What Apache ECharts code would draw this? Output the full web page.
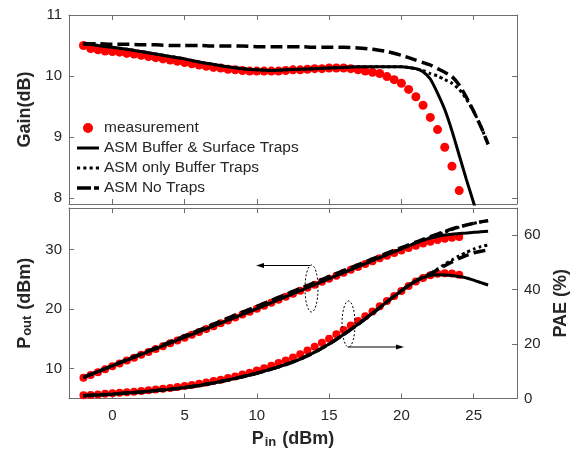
<!DOCTYPE html>
<html><head><meta charset="utf-8">
<script src="https://cdn.jsdelivr.net/npm/echarts@6/dist/echarts.min.js"></script>
<style>html,body{margin:0;padding:0;background:#fff}#c{width:579px;height:457px}</style>
</head><body><div id="c"></div>
<script>
// ---- data ----
const measPin = [-2,-1.5,-1,-0.5,0,0.5,1,1.5,2,2.5,3,3.5,4,4.5,5,5.5,6,6.5,7,7.5,8,8.5,9,9.5,10,10.5,11,11.5,12,12.5,13,13.5,14,14.5,15,15.5,16,16.5,17,17.5,18,18.5,19,19.5,20,20.5,21,21.5,22,22.5,23,23.5,24];
const gainMeas = [10.50,10.45,10.43,10.41,10.40,10.39,10.37,10.36,10.34,10.32,10.30,10.28,10.26,10.24,10.22,10.20,10.18,10.16,10.14,10.13,10.11,10.10,10.09,10.08,10.08,10.08,10.08,10.08,10.09,10.10,10.10,10.11,10.12,10.12,10.13,10.13,10.13,10.12,10.10,10.08,10.06,10.04,9.99,9.94,9.88,9.78,9.66,9.52,9.32,9.12,8.83,8.52,8.12];
const poutMeas = [8.50,8.95,9.43,9.91,10.40,10.89,11.37,11.86,12.34,12.82,13.30,13.78,14.26,14.74,15.22,15.70,16.18,16.66,17.14,17.63,18.11,18.60,19.09,19.58,20.08,20.58,21.08,21.58,22.09,22.60,23.10,23.61,24.12,24.62,25.13,25.63,26.13,26.62,27.10,27.58,28.06,28.54,28.99,29.44,29.88,30.28,30.66,31.02,31.32,31.62,31.83,32.02,32.12];
const paeMeas = [1.2,1.3,1.5,1.7,1.9,2.1,2.3,2.5,2.8,3.0,3.3,3.6,3.9,4.2,4.6,5.0,5.4,5.9,6.4,6.9,7.5,8.1,8.8,9.5,10.3,11.1,12.0,13.0,14.0,15.1,16.3,17.6,19.0,20.5,22.0,23.6,25.2,26.8,28.5,30.2,32.0,33.9,35.8,37.7,39.5,41.3,43.0,44.3,45.3,45.8,46.0,45.9,45.5];

const modelPin = [-2,-1,0,1,2,3,4,5,6,7,8,9,10,11,12,13,14,15,16,17,18,19,20,20.5,21,21.5,22,22.5,23,23.5,24,24.5,25,25.5,26];
const gainBufSurf = [10.53,10.50,10.47,10.44,10.40,10.36,10.32,10.28,10.23,10.19,10.15,10.12,10.10,10.09,10.10,10.11,10.12,10.13,10.14,10.15,10.15,10.15,10.15,10.14,10.12,10.07,9.95,9.72,9.45,9.10,8.70,8.30,7.92,7.50,7.10];
const gainBuf = [10.53,10.50,10.47,10.44,10.40,10.36,10.32,10.28,10.23,10.19,10.15,10.12,10.10,10.09,10.10,10.11,10.12,10.13,10.14,10.15,10.15,10.15,10.15,10.14,10.12,10.09,10.04,10.00,9.94,9.88,9.78,9.62,9.42,9.17,8.88];
const gainNo = [10.53,10.53,10.52,10.52,10.51,10.51,10.50,10.50,10.50,10.49,10.49,10.49,10.48,10.48,10.48,10.48,10.47,10.47,10.47,10.46,10.44,10.40,10.34,10.30,10.26,10.22,10.18,10.12,10.06,9.99,9.85,9.65,9.42,9.17,8.88];
const poutBufSurf = [8.53,9.50,10.47,11.44,12.40,13.36,14.32,15.28,16.23,17.19,18.15,19.12,20.10,21.09,22.10,23.11,24.12,25.13,26.14,27.15,28.15,29.15,30.15,30.64,31.12,31.57,31.95,32.22,32.45,32.60,32.70,32.80,32.92,33.00,33.08];
const poutBuf = [8.53,9.50,10.47,11.44,12.40,13.36,14.32,15.28,16.23,17.19,18.15,19.12,20.10,21.09,22.10,23.11,24.12,25.13,26.14,27.15,28.15,29.15,30.15,30.64,31.12,31.59,32.04,32.50,32.94,33.38,33.78,34.12,34.42,34.67,34.88];
const poutNo = [8.53,9.53,10.52,11.52,12.51,13.51,14.50,15.50,16.50,17.49,18.49,19.49,20.48,21.48,22.48,23.48,24.47,25.47,26.47,27.46,28.44,29.40,30.34,30.80,31.26,31.72,32.18,32.62,33.06,33.49,33.85,34.15,34.42,34.67,34.88];
const paeBufSurf = [1.0,1.3,1.6,2.0,2.4,2.9,3.4,4.0,4.8,5.7,6.8,8.0,9.3,10.8,12.5,14.5,17.0,20.0,23.5,27.3,31.3,35.5,39.6,41.5,43.2,44.4,45.2,45.5,45.4,45.2,44.8,44.3,43.5,42.6,41.7];
const paeBuf = [1.0,1.3,1.6,2.0,2.4,2.9,3.4,4.0,4.8,5.7,6.8,8.0,9.3,10.8,12.5,14.5,17.0,20.0,23.5,27.3,31.3,35.5,39.6,41.5,43.2,44.6,45.9,47.6,49.3,50.9,52.4,53.7,54.9,55.8,56.4];
const paeNo = [1.0,1.3,1.6,2.0,2.4,2.9,3.4,4.0,4.8,5.7,6.8,8.0,9.3,10.8,12.5,14.5,17.0,20.0,23.5,27.3,31.3,35.5,39.6,41.5,43.2,44.6,45.8,47.3,48.8,50.2,51.5,52.6,53.5,54.1,54.6];

const xTicks = [0,5,10,15,20,25];
const gainTicks = [8,9,10,11];
const poutTicks = [10,20,30];
const paeTicks = [0,20,40,60];

const names = ['measurement','ASM Buffer & Surface Traps','ASM only Buffer Traps','ASM No Traps'];

// ---- chart ----
const FONT = 'Liberation Sans, Arial, Helvetica, sans-serif';
const axisCol = '#6e6e6e';
const labCol = '#262626';
const zip = (xs, ys) => xs.map((x, i) => [x, ys[i]]);

function xAx(grid, pos, labels, extra) {
  return Object.assign({
    type: 'value', gridIndex: grid, position: pos, min: -3, max: 28,
    axisLine: {show: true, onZero: false, lineStyle: {color: axisCol, width: 1}},
    axisTick: {show: true, inside: true, length: 5, customValues: xTicks, lineStyle: {color: axisCol}},
    axisLabel: {show: labels, customValues: xTicks, color: labCol, fontSize: 15, fontFamily: FONT, margin: 10},
    splitLine: {show: false}
  }, extra || {});
}
function yAx(grid, pos, min, max, ticks, labels, extra) {
  return Object.assign({
    type: 'value', gridIndex: grid, position: pos, min: min, max: max,
    axisLine: {show: true, onZero: false, lineStyle: {color: axisCol, width: 1}},
    axisTick: {show: true, inside: true, length: 5, customValues: ticks, lineStyle: {color: axisCol}},
    axisLabel: {show: labels, customValues: ticks, color: labCol, fontSize: 15, fontFamily: FONT, margin: 7},
    splitLine: {show: false}
  }, extra || {});
}
const nameStyle = {color: labCol, fontSize: 18, fontWeight: 'bold', fontFamily: FONT};
const subRich = {
  b: {fontSize: 18, fontWeight: 'bold', fontFamily: FONT, color: labCol, lineHeight: 18, verticalAlign: 'top'},
  s: {fontSize: 13, fontWeight: 'bold', fontFamily: FONT, color: labCol, lineHeight: 13, padding: [9, 1, 0, 1], verticalAlign: 'bottom'}
};

const lineStyles = {
  [names[1]]: {color: '#000', width: 3, type: 'solid'},
  [names[2]]: {color: '#000', width: 3, type: [3, 3]},
  [names[3]]: {color: '#000', width: 3.5, type: [12, 5]}
};
const legendIcons = {
  [names[0]]: 'circle',
  [names[1]]: 'path://M0,0H22V3H0Z',
  [names[2]]: 'path://M0,0H3V3H0ZM6,0H9V3H6ZM12,0H15V3H12ZM18,0H21V3H18Z',
  [names[3]]: 'path://M0,0H14V3.5H0ZM17,0H22V3.5H17Z'
};
function lineSeries(name, xi, yi, ys, z) {
  return {
    name: name, type: 'line', xAxisIndex: xi, yAxisIndex: yi,
    data: zip(modelPin, ys), symbol: 'none', showSymbol: false, smooth: 0.2,
    lineStyle: lineStyles[name], itemStyle: {color: '#000'}, z: z, clip: true,
    emphasis: {disabled: true}
  };
}
function measSeries(xi, yi, ys, size) {
  return {
    name: names[0], type: 'scatter', xAxisIndex: xi, yAxisIndex: yi,
    data: zip(measPin, ys), symbol: 'circle', symbolSize: size,
    itemStyle: {color: '#ff0000', opacity: 1}, z: 2, emphasis: {disabled: true}
  };
}

const option = {
  animation: false,
  backgroundColor: '#fff',
  textStyle: {fontFamily: FONT},
  grid: [
    {left: 69, right: 62, top: 15, height: 189},
    {left: 69, right: 62, top: 208, height: 190.5}
  ],
  xAxis: [
    xAx(0, 'bottom', false),
    xAx(0, 'top', false),
    xAx(1, 'bottom', true, {
      name: '{b|P}{s|in}{b| (dBm)}', nameLocation: 'middle', nameGap: 32,
      nameTextStyle: {rich: subRich}
    }),
    xAx(1, 'top', false)
  ],
  yAxis: [
    yAx(0, 'left', 7.9, 11, gainTicks, true, {
      name: 'Gain(dB)', nameLocation: 'middle', nameGap: 28, nameTextStyle: nameStyle
    }),
    yAx(0, 'right', 7.9, 11, gainTicks, false),
    yAx(1, 'left', 5, 37, poutTicks, true, {
      name: '{b|P}{s|out}{b| (dBm)}', nameLocation: 'middle', nameGap: 31,
      nameTextStyle: {rich: subRich}
    }),
    yAx(1, 'right', 0, 70, paeTicks, true, {
      name: 'PAE (%)', nameLocation: 'middle', nameGap: 31, nameTextStyle: nameStyle
    })
  ],
  legend: {
    orient: 'vertical', left: 77, top: 118, padding: 0, itemGap: 0,
    itemWidth: 22, itemHeight: 10,
    textStyle: {fontSize: 15.5, color: labCol, fontFamily: FONT, lineHeight: 20},
    data: names.map(n => ({name: n, icon: legendIcons[n]})),
    selectedMode: false
  },
  series: [
    measSeries(0, 0, gainMeas, 9),
    lineSeries(names[1], 0, 0, gainBufSurf, 5),
    lineSeries(names[2], 0, 0, gainBuf, 4),
    lineSeries(names[3], 0, 0, gainNo, 4),
    measSeries(2, 2, poutMeas, 8),
    measSeries(2, 3, paeMeas, 8),
    lineSeries(names[1], 2, 2, poutBufSurf, 5),
    lineSeries(names[2], 2, 2, poutBuf, 4),
    lineSeries(names[3], 2, 2, poutNo, 4),
    lineSeries(names[1], 2, 3, paeBufSurf, 5),
    lineSeries(names[2], 2, 3, paeBuf, 4),
    lineSeries(names[3], 2, 3, paeNo, 4)
  ],
  graphic: [
    {type: 'ellipse', shape: {cx: 311.5, cy: 288.5, rx: 6.5, ry: 23.5}, style: {fill: 'none', stroke: '#000', lineWidth: 1, lineDash: [2, 2]}, z: 10},
    {type: 'line', shape: {x1: 310, y1: 265.5, x2: 262, y2: 265.5}, style: {stroke: '#000', lineWidth: 1}, z: 10},
    {type: 'polygon', shape: {points: [[256, 265.5], [264, 263], [264, 268]]}, style: {fill: '#000'}, z: 10},
    {type: 'ellipse', shape: {cx: 348.5, cy: 324, rx: 6.5, ry: 23}, style: {fill: 'none', stroke: '#000', lineWidth: 1, lineDash: [2, 2]}, z: 10},
    {type: 'line', shape: {x1: 348, y1: 347, x2: 398, y2: 347}, style: {stroke: '#000', lineWidth: 1}, z: 10},
    {type: 'polygon', shape: {points: [[404, 347], [396, 344.5], [396, 349.5]]}, style: {fill: '#000'}, z: 10}
  ]
};
const chart = echarts.init(document.getElementById('c'), null, {renderer: 'canvas'});
chart.setOption(option);
</script>
</body></html>
